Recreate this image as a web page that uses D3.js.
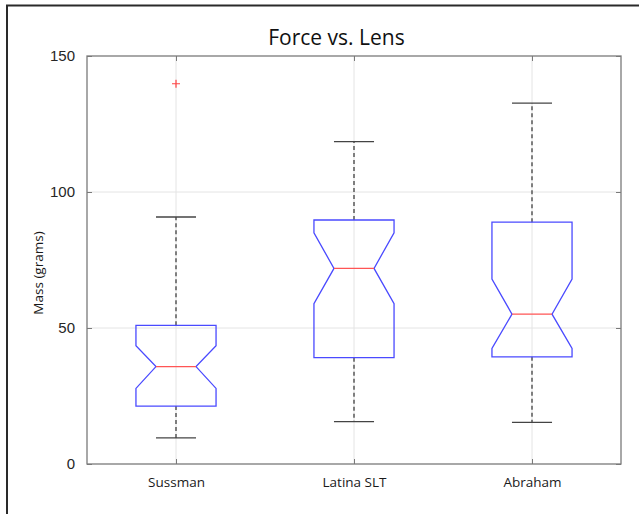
<!DOCTYPE html>
<html>
<head>
<meta charset="utf-8">
<script src="https://cdn.jsdelivr.net/npm/d3@7"></script>
<style>
html,body{margin:0;padding:0;background:#fff;}
svg{display:block;}
</style>
</head>
<body>
<svg id="chart" width="639" height="514"></svg>
<script>
const categories = ["Sussman", "Latina SLT", "Abraham"];
const whiskerLow  = [9.6, 15.6, 15.3];
const q1          = [21.3, 39.1, 39.4];
const notchLow    = [27.8, 58.9, 42.5];
const median      = [35.8, 71.9, 55.1];
const notchHigh   = [43.5, 85.0, 68.0];
const q3          = [51.0, 89.7, 88.9];
const whiskerHigh = [90.8, 118.5, 132.7];
const outliers    = [[139.8], [], []];
const yTicks      = [0, 50, 100, 150];

const svg = d3.select("#chart");
const L = 87, R = 621, T = 56, B = 464;

// outer frame (left + top)
svg.append("line").attr("x1",7).attr("x2",7).attr("y1",5).attr("y2",514).attr("stroke","#2a2a2a").attr("stroke-width",2);
svg.append("line").attr("x1",6).attr("x2",639).attr("y1",5.5).attr("y2",5.5).attr("stroke","#2a2a2a").attr("stroke-width",2);

const x = d3.scalePoint().domain(categories).range([L, R]).padding(0.5);
const y = d3.scaleLinear().domain([0, 150]).range([B, T]);
const step = x.step();
const boxW = step * 0.45;

// grid
const g = svg.append("g");
g.selectAll(".gy").data(yTicks.slice(1, -1)).join("line")
  .attr("x1", L).attr("x2", R).attr("y1", d => y(d)).attr("y2", d => y(d))
  .attr("stroke", "#e4e4e4").attr("stroke-width", 1);
g.selectAll(".gx").data(categories).join("line")
  .attr("x1", d => x(d)).attr("x2", d => x(d)).attr("y1", T).attr("y2", B)
  .attr("stroke", "#e4e4e4").attr("stroke-width", 1);

// axes with inward ticks
const axisColor = "#7a7a7a";
const tickLen = 5;
function styleAxis(sel){
  sel.select(".domain").remove();
  sel.selectAll(".tick line").attr("stroke", axisColor);
}
svg.append("g").attr("transform", `translate(${L},0)`)
  .call(d3.axisLeft(y).tickValues(yTicks).tickSizeInner(-tickLen).tickSizeOuter(0).tickPadding(7+tickLen).tickFormat(d3.format("d")))
  .call(styleAxis)
  .call(s => s.selectAll(".tick text").attr("font-family","'Liberation Sans', Arial, sans-serif").attr("font-size","15px").attr("fill","#262626"));
svg.append("g").attr("transform", `translate(${R},0)`)
  .call(d3.axisRight(y).tickValues(yTicks).tickSizeInner(-tickLen).tickSizeOuter(0).tickFormat(""))
  .call(styleAxis);
svg.append("g").attr("transform", `translate(0,${B})`)
  .call(d3.axisBottom(x).tickSizeInner(-tickLen).tickSizeOuter(0).tickPadding(8+tickLen))
  .call(styleAxis)
  .call(s => s.selectAll(".tick text").attr("font-family","'Open Sans', sans-serif").attr("font-size","13.5px").attr("fill","#1a1a1a"));
svg.append("g").attr("transform", `translate(0,${T})`)
  .call(d3.axisTop(x).tickSizeInner(-tickLen).tickSizeOuter(0).tickFormat(""))
  .call(styleAxis);

// plot box
svg.append("rect").attr("x", L).attr("y", T).attr("width", R - L).attr("height", B - T)
  .attr("fill", "none").attr("stroke", axisColor).attr("stroke-width", 1.3);

// boxes
const data = categories.map((c, i) => ({c, wl: whiskerLow[i], q1: q1[i], nl: notchLow[i], m: median[i], nh: notchHigh[i], q3: q3[i], wh: whiskerHigh[i], out: outliers[i]}));
const bg = svg.append("g");
data.forEach(d => {
  const cx = x(d.c), hw = boxW / 2, nw = boxW / 4;
  // whiskers
  bg.append("line").attr("x1", cx).attr("x2", cx).attr("y1", y(d.q3)).attr("y2", y(d.wh))
    .attr("stroke", "#333").attr("stroke-width", 1.2).attr("stroke-dasharray", "4,3");
  bg.append("line").attr("x1", cx).attr("x2", cx).attr("y1", y(d.q1)).attr("y2", y(d.wl))
    .attr("stroke", "#333").attr("stroke-width", 1.2).attr("stroke-dasharray", "4,3");
  // caps
  [d.wh, d.wl].forEach(v => {
    bg.append("line").attr("x1", cx - nw).attr("x2", cx + nw).attr("y1", y(v)).attr("y2", y(v))
      .attr("stroke", "#444").attr("stroke-width", 1.3);
  });
  // notched box
  const pts = [
    [cx - hw, y(d.q3)], [cx + hw, y(d.q3)], [cx + hw, y(d.nh)], [cx + nw, y(d.m)],
    [cx + hw, y(d.nl)], [cx + hw, y(d.q1)], [cx - hw, y(d.q1)], [cx - hw, y(d.nl)],
    [cx - nw, y(d.m)], [cx - hw, y(d.nh)]
  ];
  bg.append("path").attr("d", d3.line()(pts) + "Z")
    .attr("fill", "none").attr("stroke", "#4a4aff").attr("stroke-width", 1.3);
  // median
  bg.append("line").attr("x1", cx - nw).attr("x2", cx + nw).attr("y1", y(d.m)).attr("y2", y(d.m))
    .attr("stroke", "#ff5555").attr("stroke-width", 1.3);
  // outliers
  d.out.forEach(v => {
    const s = 4;
    bg.append("path").attr("d", `M${cx - s},${y(v)}H${cx + s}M${cx},${y(v) - s}V${y(v) + s}`)
      .attr("stroke", "#ff4444").attr("stroke-width", 1.2).attr("fill", "none");
  });
});

// title
svg.append("text").attr("x", 336.5).attr("y", 45).attr("text-anchor", "middle")
  .attr("font-family", "'Open Sans', sans-serif").attr("font-size", "21px").attr("fill", "#111")
  .text("Force vs. Lens");
// y label
svg.append("text").attr("transform", "translate(43,273) rotate(-90)").attr("text-anchor", "middle")
  .attr("font-family", "'Open Sans', sans-serif").attr("font-size", "13.5px").attr("fill", "#1a1a1a")
  .text("Mass (grams)");
</script>
</body>
</html>
